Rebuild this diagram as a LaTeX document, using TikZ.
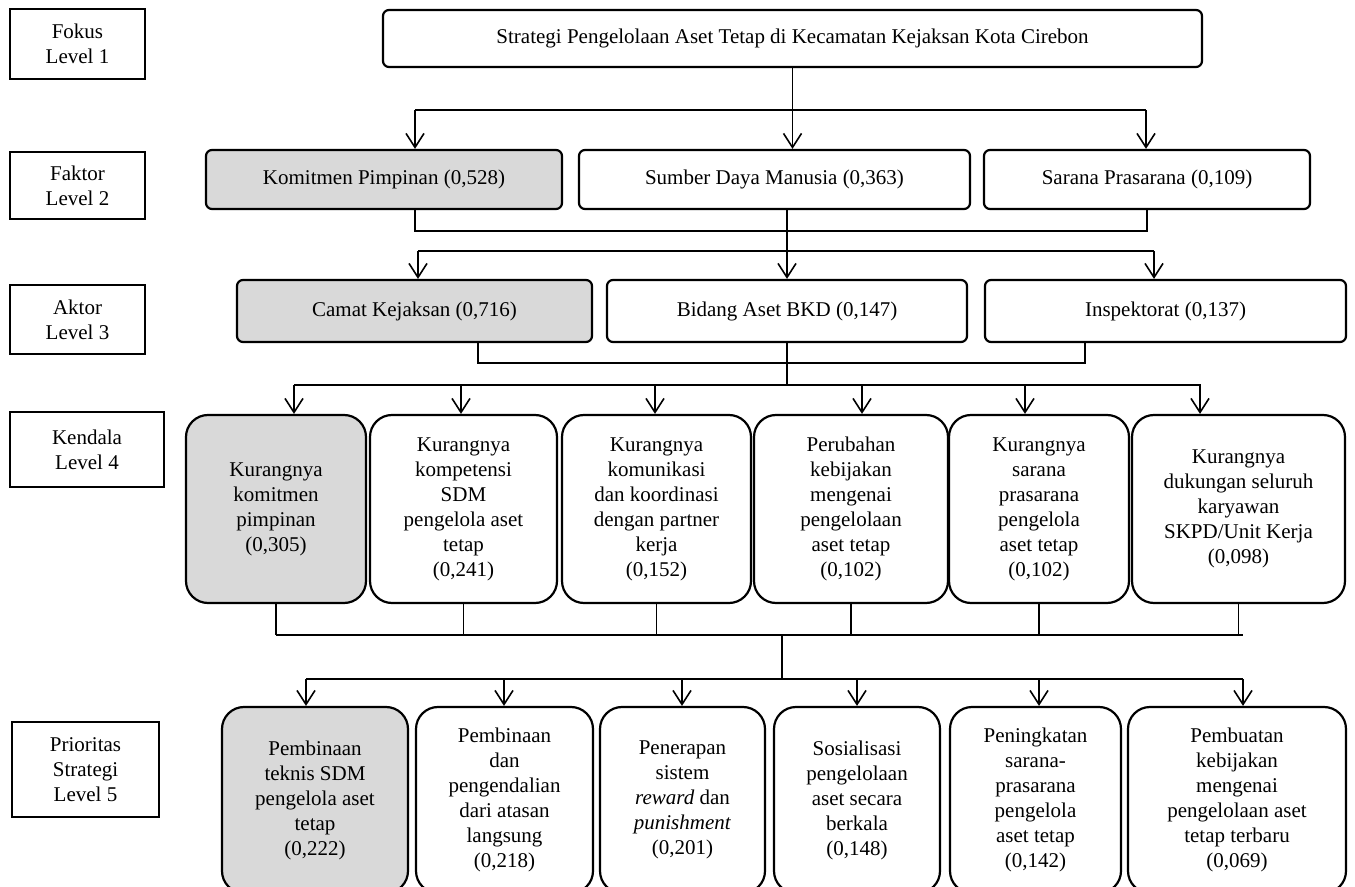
\documentclass[tikz,border=0pt]{standalone}
\usepackage{fontspec}
\setmainfont{Liberation Serif}
\usetikzlibrary{arrows.meta,positioning}

\begin{document}
\begin{tikzpicture}[x=0.5pt,y=-0.5pt,>={Straight Barb[length=7pt,width=9pt]},
	teks/.style={draw,line width=1.1pt,align=center,inner sep=1pt,font=\fontsize{10.5}{12.5}\selectfont},
	ukuran/.style 2 args={minimum width=#1*0.5pt,minimum height=#2*0.5pt},
	level/.style={teks,line width=0.9pt},
	kotak/.style={teks,rounded corners=3pt},
	kotakb/.style={teks,rounded corners=11pt},
	pilih/.style={fill=black!15},
	garis/.style={line width=0.8pt}]
	\useasboundingbox (0,0) rectangle (1355,887);

	% keterangan level
	\node[level,ukuran={135}{70}] (l1) at (77.5,44) {Fokus\\Level 1};
	\node[level,ukuran={135}{67}] (l2) at (77.5,185.5) {Faktor\\Level 2};
	\node[level,ukuran={135}{69}] (l3) at (77.5,319.5) {Aktor\\Level 3};
	\node[level,ukuran={154}{75}] (l4) at (87,449.5) {Kendala\\Level 4};
	\node[level,ukuran={147}{95}] (l5) at (85.5,769.5) {Prioritas\\Strategi\\Level 5};

	% level 1 dan 2
	\node[kotak,ukuran={819}{57}] (focus) at (792.5,38.5) {Strategi Pengelolaan Aset Tetap di Kecamatan Kejaksan Kota Cirebon};
	\node[kotak,pilih,ukuran={356}{59}] (f1) at (384,179.5) {Komitmen Pimpinan (0,528)};
	\node[kotak,ukuran={391}{59}] (f2) at (774.5,179.5) {Sumber Daya Manusia (0,363)};
	\node[kotak,ukuran={326}{59}] (f3) at (1147,179.5) {Sarana Prasarana (0,109)};

	% level 3
	\node[kotak,pilih,ukuran={355}{62}] (a1) at (414.5,311) {Camat Kejaksan (0,716)};
	\node[kotak,ukuran={360}{62}] (a2) at (787,311) {Bidang Aset BKD (0,147)};
	\node[kotak,ukuran={361}{62}] (a3) at (1165.5,311) {Inspektorat (0,137)};

	% level 4
	\node[kotakb,pilih,ukuran={180}{188}] (k1) at (276,509) {Kurangnya\\komitmen\\pimpinan\\(0,305)};
	\node[kotakb,ukuran={187}{188}] (k2) at (463.5,509) {Kurangnya\\kompetensi\\SDM\\pengelola aset\\tetap\\(0,241)};
	\node[kotakb,ukuran={189}{188}] (k3) at (656.5,509) {Kurangnya\\komunikasi\\dan koordinasi\\dengan partner\\kerja\\(0,152)};
	\node[kotakb,ukuran={194}{188}] (k4) at (851,509) {Perubahan\\kebijakan\\mengenai\\pengelolaan\\aset tetap\\(0,102)};
	\node[kotakb,ukuran={180}{188}] (k5) at (1039,509) {Kurangnya\\sarana\\prasarana\\pengelola\\aset tetap\\(0,102)};
	\node[kotakb,ukuran={213}{188}] (k6) at (1238.5,509) {Kurangnya\\dukungan seluruh\\karyawan\\SKPD/Unit Kerja\\(0,098)};

	% level 5
	\node[kotakb,pilih,ukuran={186}{186}] (p1) at (315,800) {Pembinaan\\teknis SDM\\pengelola aset\\tetap\\(0,222)};
	\node[kotakb,ukuran={177}{186}] (p2) at (504.5,800) {Pembinaan\\dan\\pengendalian\\dari atasan\\langsung\\(0,218)};
	\node[kotakb,ukuran={165}{186}] (p3) at (682.5,800) {Penerapan\\sistem\\\textit{reward} dan\\\textit{punishment}\\(0,201)};
	\node[kotakb,ukuran={166}{186}] (p4) at (857,800) {Sosialisasi\\pengelolaan\\aset secara\\berkala\\(0,148)};
	\node[kotakb,ukuran={171}{186}] (p5) at (1035.5,800) {Peningkatan\\sarana-\\prasarana\\pengelola\\aset tetap\\(0,142)};
	\node[kotakb,ukuran={218}{186}] (p6) at (1237,800) {Pembuatan\\kebijakan\\mengenai\\pengelolaan aset\\tetap terbaru\\(0,069)};

	% penghubung level 1 - 2
	\coordinate (j1a) at (415,110); \coordinate (j1b) at (1146,110);
	\draw[garis] (j1a) -- (j1b);
	\draw[garis,->] (focus.south) -- (focus.south |- f2.north); \draw[garis,->] (j1a) -- (j1a |- f1.north); \draw[garis,->] (j1b) -- (j1b |- f3.north);

	% penghubung level 2 - 3
	\coordinate (j2a) at (415,231); \coordinate (j2b) at (1147,231);
	\draw[garis] (j2a |- f1.south) -- (j2a) -- (j2b) -- (j2b |- f3.south);
	\coordinate (j3a) at (418,251); \coordinate (j3b) at (1154,251);
	\draw[garis] (j3a) -- (j3b);
	\draw[garis,->] (a2.north |- f2.south) -- (a2.north); \draw[garis,->] (j3a) -- (j3a |- a1.north); \draw[garis,->] (j3b) -- (j3b |- a3.north);

	% penghubung level 3 - 4
	\coordinate (j4a) at (478,363); \coordinate (j4b) at (1085,363);
	\draw[garis] (j4a |- a1.south) -- (j4a) -- (j4b) -- (j4b |- a3.south);
	\coordinate (j5a) at (294,385); \coordinate (j5b) at (1201,385);
	\draw[garis] (a2.south) -- (a2.south |- j5a); \draw[garis] (j5a) -- (j5b);
	\foreach \x/\k in {294/k1,461/k2,655/k3,862/k4,1025/k5,1200/k6}
		\draw[garis,->] (\x,385) -- (\x,385 |- \k.north);

	% penghubung level 4 - 5
	\coordinate (j6a) at (276,635); \coordinate (j6b) at (1243,635);
	\draw[garis] (j6a) -- (j6b);
	\foreach \k in {k1,k2,k3,k4,k5,k6}
		\draw[garis] (\k.south) -- (\k.south |- j6a);
	\coordinate (j7) at (782,635); \coordinate (j8a) at (306,679); \coordinate (j8b) at (1243,679);
	\draw[garis] (j7) -- (j7 |- j8a); \draw[garis] (j8a) -- (j8b);
	\foreach \x/\p in {306/p1,504/p2,682/p3,857/p4,1039/p5,1243/p6}
		\draw[garis,->] (\x,679) -- (\x,679 |- \p.north);
\end{tikzpicture}
\end{document}
